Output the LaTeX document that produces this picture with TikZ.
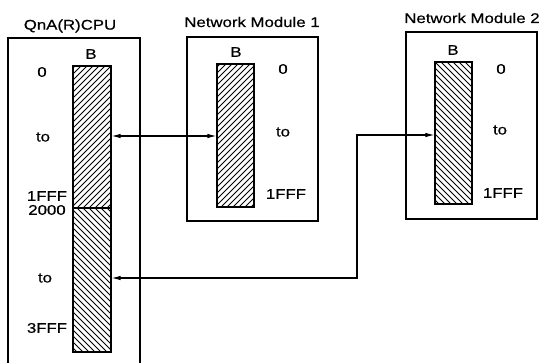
\documentclass[tikz,border=0pt]{standalone}
\usepackage{fontspec}
\setmainfont[FakeStretch=1.2,FakeBold=0.6]{Liberation Sans}
\usetikzlibrary{arrows.meta}
\begin{document}
\begin{tikzpicture}[x=1pt,y=-1pt,
  lbl/.style={font=\fontsize{14}{16}\selectfont, inner sep=0pt},
  frame/.style={line width=1.2pt},
  hatchNE/.style={draw, line width=1.1pt, inner sep=0pt, path picture={
    \foreach \k in {-200,-194,...,60}{\draw[line width=0.8pt] ([xshift=\k pt]path picture bounding box.south west) -- ++(300pt,300pt);}}},
  hatchNW/.style={draw, line width=1.1pt, inner sep=0pt, path picture={
    \foreach \k in {-20,-14,...,260}{\draw[line width=0.8pt] ([xshift=\k pt]path picture bounding box.south west) -- ++(-300pt,300pt);}}},
  conn/.style={line width=1.1pt, {Latex[length=9pt,width=4.5pt]}-{Latex[length=9pt,width=4.5pt]}}
]
\useasboundingbox (0,0) rectangle (543,363);
% frames
\coordinate (cpuTL) at (8,38);
\coordinate (cpuTR) at (140,38);
\coordinate (cpuBL) at (8,363);
\coordinate (cpuBR) at (140,363);
\draw[frame] (cpuBL) -- (cpuTL) -- (cpuTR) -- (cpuBR);
\node[frame, draw, minimum width=131pt, minimum height=184pt, inner sep=0pt] (nm1) at (252.5,129) {};
\node[frame, draw, minimum width=131pt, minimum height=187pt, inner sep=0pt] (nm2) at (471.5,125.5) {};
% titles
\node[lbl] (tcpu) at (70,26) {QnA(R)CPU};
\node[lbl] (tnm1) at (252,22) {Network Module 1};
\node[lbl] (tnm2) at (472,18) {Network Module 2};
% bars
\node[hatchNE, minimum width=38pt, minimum height=142pt] (cpuU) at (92,137) {};
\node[hatchNW, minimum width=38pt, minimum height=144pt] (cpuL) at (92,280) {};
\node[hatchNE, minimum width=37pt, minimum height=143pt] (bar1) at (235.5,135.5) {};
\node[hatchNW, minimum width=37pt, minimum height=142pt] (bar2) at (453.5,133) {};
% CPU labels
\node[lbl] (cB) at (91,54) {B};
\node[lbl] (c0) at (42,72) {0};
\node[lbl] (cto1) at (43,137) {to};
\node[lbl] (c1fff) at (47,196) {1FFF};
\node[lbl] (c2000) at (47,210) {2000};
\node[lbl] (cto2) at (45,278) {to};
\node[lbl] (c3fff) at (47,328) {3FFF};
% NM1 labels
\node[lbl] (aB) at (236,52) {B};
\node[lbl] (a0) at (283,69) {0};
\node[lbl] (ato) at (283,132) {to};
\node[lbl] (a1fff) at (286,194) {1FFF};
% NM2 labels
\node[lbl] (bB) at (453,50) {B};
\node[lbl] (b0) at (501,69) {0};
\node[lbl] (bto) at (500,130) {to};
\node[lbl] (b1fff) at (503,193) {1FFF};
% connectors
\draw[conn] (cpuU.east |- 0,136) -- (bar1.west |- 0,136);
\coordinate (k1) at (357,278);
\coordinate (k2) at (357,135);
\draw[conn] (cpuL.east |- k1) -- (k1) -- (k2) -- (bar2.west |- k2);
\end{tikzpicture}
\end{document}
